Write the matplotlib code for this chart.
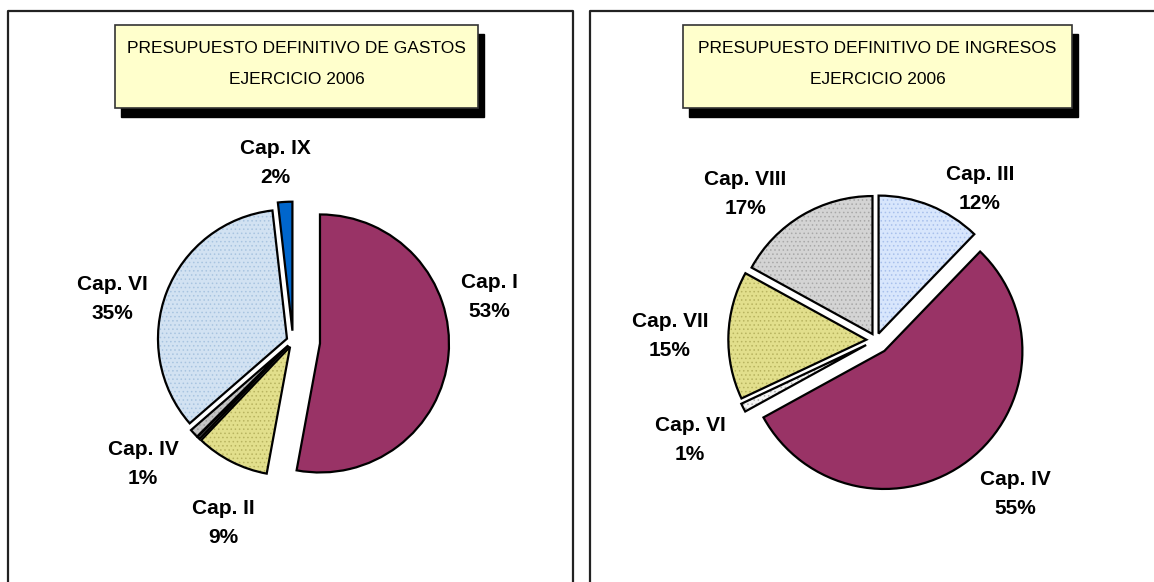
import matplotlib
matplotlib.use("Agg")
import matplotlib.pyplot as plt
from matplotlib.patches import Rectangle

plt.rcParams["hatch.linewidth"] = 0.6

W, H = 1154, 582

# --- datos ---
gastos_labels = ["Cap. I", "Cap. II", "", "Cap. IV", "Cap. VI", "Cap. IX"]
gastos_vals = [52.9, 9.2, 0.4, 1.1, 34.6, 1.8]
gastos_pct = ["53%", "9%", "", "1%", "35%", "2%"]
gastos_colors = ["#993366", "#e2df8c", "#404040", "#c4c4c4", "#d2e2f2", "#0066cc"]
gastos_dots = ["#993366", "#b8b460", "#404040", "#a0a0a0", "#a8c4e0", "#0066cc"]
gastos_explode = [0.21, 0.05, 0.05, 0.05, 0.05, 0.08]

ingresos_labels = ["Cap. III", "Cap. IV", "Cap. VI", "Cap. VII", "Cap. VIII"]
ingresos_vals = [12.2, 54.8, 1.0, 15.0, 17.0]
ingresos_pct = ["12%", "55%", "1%", "15%", "17%"]
ingresos_colors = ["#d8e6fc", "#993366", "#f4f4f4", "#e2df8c", "#d4d4d4"]
ingresos_dots = ["#a8c0ec", "#993366", "#b0b0b0", "#b8b460", "#a8a8a8"]
ingresos_explode = [0.05, 0.1, 0.08, 0.07, 0.05]

titles = ["PRESUPUESTO DEFINITIVO DE GASTOS\nEJERCICIO 2006",
          "PRESUPUESTO DEFINITIVO DE INGRESOS\nEJERCICIO 2006"]

# posiciones de etiquetas (pixeles de imagen)
gastos_label_xy = [(489, 297), (223, 523), None, (143, 464), (112, 299), (275, 163)]
ingresos_label_xy = [(980, 189), (1015, 494), (690, 440), (670, 336), (745, 194)]

fig = plt.figure(figsize=(W / 100, H / 100), dpi=100)
ax = fig.add_axes([0, 0, 1, 1])


def Y(y):
    return H - y


# marcos de los paneles
ax.plot([8, 8, 573, 573], [Y(582), Y(11), Y(11), Y(582)], color="#222222", lw=1.6)
ax.plot([590, 590, 1154], [Y(582), Y(11), Y(11)], color="#222222", lw=1.6)


def title_box(x0, x1, text):
    y0, y1 = 25, 108
    ax.add_patch(Rectangle((x0 + 6, Y(y1 + 9)), x1 - x0, y1 - y0,
                           facecolor="black", edgecolor="black", zorder=2))
    ax.add_patch(Rectangle((x0, Y(y1)), x1 - x0, y1 - y0,
                           facecolor="#ffffcc", edgecolor="#333333", lw=1.2, zorder=3))
    ax.text((x0 + x1) / 2, Y(64), text, ha="center", va="center",
            fontsize=12.5, linespacing=2.4, zorder=4,
            family=["Liberation Sans Narrow", "Liberation Sans", "DejaVu Sans"])


title_box(115, 478, titles[0])
title_box(683, 1072, titles[1])


def draw_pie(vals, colors, dots, explode, center, r):
    expl = [e * r for e in explode]   # pie() no escala explode con el radio
    w1, _ = ax.pie(vals, colors=colors, explode=expl, startangle=90,
                   counterclock=False, center=center, radius=r, frame=True,
                   wedgeprops=dict(linewidth=0))
    for w, d in zip(w1, dots):
        w.set_hatch("....")
        w.set_edgecolor(d)
    ax.pie(vals, colors=["none"] * len(vals), explode=expl, startangle=90,
           counterclock=False, center=center, radius=r, frame=True,
           wedgeprops=dict(linewidth=1.6, edgecolor="black", facecolor="none"))


draw_pie(gastos_vals, gastos_colors, gastos_dots, gastos_explode, (293, Y(341)), 129)
draw_pie(ingresos_vals, ingresos_colors, ingresos_dots, ingresos_explode, (876, Y(340)), 138)

ax.set_xlim(0, W)
ax.set_ylim(0, H)
ax.set_aspect("equal")
ax.axis("off")

for labs, pcts, xy in [(gastos_labels, gastos_pct, gastos_label_xy),
                       (ingresos_labels, ingresos_pct, ingresos_label_xy)]:
    for lab, p, pos in zip(labs, pcts, xy):
        if pos is None:
            continue
        ax.text(pos[0], Y(pos[1]), f"{lab}\n{p}", ha="center", va="center",
                fontsize=15, fontweight="bold", linespacing=1.68,
                family=["Liberation Sans", "DejaVu Sans"], zorder=5)

fig.savefig("out.png", dpi=100)
